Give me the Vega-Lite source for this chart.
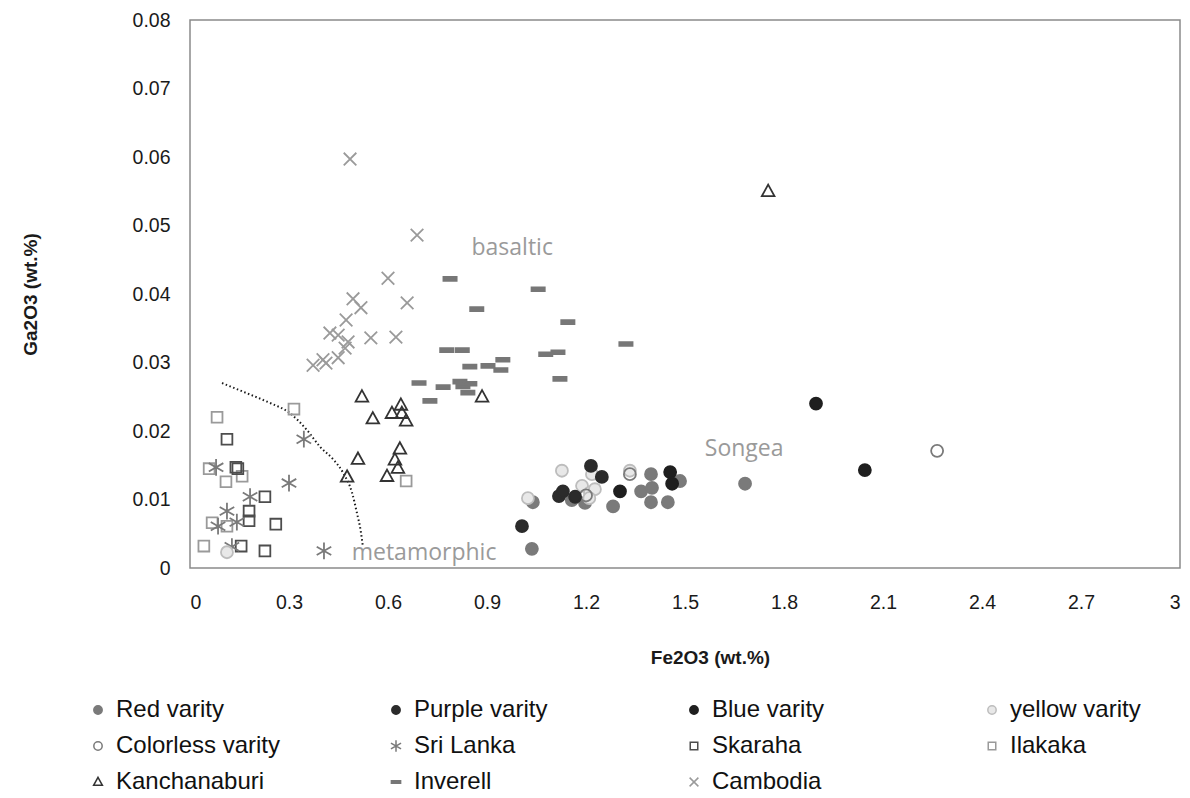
{
  "$schema": "https://vega.github.io/schema/vega-lite/v6.json",
  "autosize": "none",
  "padding": {"left": 190, "top": 20, "right": 10, "bottom": 230},
  "width": 990,
  "height": 548,
  "background": "white",
  "config": {
    "view": {"stroke": "#8a8a8a", "strokeWidth": 1.5},
    "font": "Liberation Sans",
    "axis": {"grid": false, "ticks": false, "domain": false, "labelFont": "Liberation Sans", "labelFontSize": 19.5, "labelColor": "#1a1a1a", "titleFont": "Liberation Sans", "titleFontSize": 19, "titleFontWeight": "bold", "titleColor": "#1a1a1a"},
    "legend": {"labelFont": "Liberation Sans", "labelFontSize": 24, "labelColor": "#111", "symbolSize": 70, "symbolStrokeWidth": 1.5, "labelOffset": 6, "labelLimit": 400}
  },
  "layer": [
    {
      "data": {"values": [
        {"x": 0.097, "y": 0.027}, {"x": 0.173, "y": 0.0255}, {"x": 0.242, "y": 0.0241}, {"x": 0.303, "y": 0.0226},
        {"x": 0.355, "y": 0.0201}, {"x": 0.394, "y": 0.0177}, {"x": 0.435, "y": 0.0158}, {"x": 0.464, "y": 0.0139},
        {"x": 0.491, "y": 0.011}, {"x": 0.506, "y": 0.008}, {"x": 0.517, "y": 0.0055}, {"x": 0.524, "y": 0.0031}
      ]},
      "mark": {"type": "line", "interpolate": "monotone", "stroke": "#1a1a1a", "strokeWidth": 2, "strokeDash": [1.5, 2.5]},
      "encoding": {
        "x": {"field": "x", "type": "quantitative"},
        "y": {"field": "y", "type": "quantitative"}
      }
    },
    {
      "data": {"values": [
        {"x": 0.853, "y": 0.0467, "label": "basaltic"},
        {"x": 1.56, "y": 0.0174, "label": "Songea"},
        {"x": 0.49, "y": 0.0022, "label": "metamorphic"}
      ]},
      "mark": {"type": "text", "align": "left", "baseline": "middle", "font": "Open Sans", "fontSize": 23, "color": "#9a9a9a"},
      "encoding": {
        "x": {"field": "x", "type": "quantitative"},
        "y": {"field": "y", "type": "quantitative"},
        "text": {"field": "label"}
      }
    },
    {
      "data": {"values": [
        {"s": "Cambodia", "x": 0.485, "y": 0.0597},
        {"s": "Cambodia", "x": 0.688, "y": 0.0486},
        {"s": "Cambodia", "x": 0.6, "y": 0.0423},
        {"s": "Cambodia", "x": 0.658, "y": 0.0387},
        {"s": "Cambodia", "x": 0.494, "y": 0.0393},
        {"s": "Cambodia", "x": 0.518, "y": 0.038},
        {"s": "Cambodia", "x": 0.473, "y": 0.0362},
        {"s": "Cambodia", "x": 0.424, "y": 0.0343},
        {"s": "Cambodia", "x": 0.449, "y": 0.034},
        {"s": "Cambodia", "x": 0.479, "y": 0.033},
        {"s": "Cambodia", "x": 0.47, "y": 0.0321},
        {"s": "Cambodia", "x": 0.548, "y": 0.0336},
        {"s": "Cambodia", "x": 0.624, "y": 0.0337},
        {"s": "Cambodia", "x": 0.373, "y": 0.0296},
        {"s": "Cambodia", "x": 0.403, "y": 0.0304},
        {"s": "Cambodia", "x": 0.412, "y": 0.0299},
        {"s": "Cambodia", "x": 0.449, "y": 0.0307},
        {"s": "Inverell", "x": 0.788, "y": 0.0422},
        {"s": "Inverell", "x": 1.055, "y": 0.0407},
        {"s": "Inverell", "x": 0.869, "y": 0.0378},
        {"s": "Inverell", "x": 1.145, "y": 0.0359},
        {"s": "Inverell", "x": 1.321, "y": 0.0327},
        {"s": "Inverell", "x": 0.778, "y": 0.0318},
        {"s": "Inverell", "x": 0.825, "y": 0.0318},
        {"s": "Inverell", "x": 1.078, "y": 0.0312},
        {"s": "Inverell", "x": 1.115, "y": 0.0315},
        {"s": "Inverell", "x": 0.948, "y": 0.0304},
        {"s": "Inverell", "x": 0.942, "y": 0.0289},
        {"s": "Inverell", "x": 0.848, "y": 0.0294},
        {"s": "Inverell", "x": 0.903, "y": 0.0295},
        {"s": "Inverell", "x": 1.121, "y": 0.0276},
        {"s": "Inverell", "x": 0.694, "y": 0.027},
        {"s": "Inverell", "x": 0.767, "y": 0.0264},
        {"s": "Inverell", "x": 0.818, "y": 0.0272},
        {"s": "Inverell", "x": 0.848, "y": 0.0269},
        {"s": "Inverell", "x": 0.827, "y": 0.0265},
        {"s": "Inverell", "x": 0.842, "y": 0.0256},
        {"s": "Inverell", "x": 0.727, "y": 0.0244},
        {"s": "Kanchanaburi", "x": 0.521, "y": 0.025},
        {"s": "Kanchanaburi", "x": 0.554, "y": 0.0218},
        {"s": "Kanchanaburi", "x": 0.612, "y": 0.0226},
        {"s": "Kanchanaburi", "x": 0.639, "y": 0.0238},
        {"s": "Kanchanaburi", "x": 0.642, "y": 0.0226},
        {"s": "Kanchanaburi", "x": 0.655, "y": 0.0215},
        {"s": "Kanchanaburi", "x": 0.885, "y": 0.025},
        {"s": "Kanchanaburi", "x": 0.509, "y": 0.0159},
        {"s": "Kanchanaburi", "x": 0.636, "y": 0.0174},
        {"s": "Kanchanaburi", "x": 0.621, "y": 0.0158},
        {"s": "Kanchanaburi", "x": 0.63, "y": 0.0146},
        {"s": "Kanchanaburi", "x": 0.597, "y": 0.0134},
        {"s": "Kanchanaburi", "x": 0.476, "y": 0.0133},
        {"s": "Kanchanaburi", "x": 1.752, "y": 0.055},
        {"s": "Ilakaka", "x": 0.082, "y": 0.022},
        {"s": "Ilakaka", "x": 0.315, "y": 0.0232},
        {"s": "Ilakaka", "x": 0.058, "y": 0.0145},
        {"s": "Ilakaka", "x": 0.158, "y": 0.0134},
        {"s": "Ilakaka", "x": 0.109, "y": 0.0126},
        {"s": "Ilakaka", "x": 0.067, "y": 0.0066},
        {"s": "Ilakaka", "x": 0.112, "y": 0.0061},
        {"s": "Ilakaka", "x": 0.042, "y": 0.0032},
        {"s": "Ilakaka", "x": 0.655, "y": 0.0127},
        {"s": "Skaraha", "x": 0.112, "y": 0.0188},
        {"s": "Skaraha", "x": 0.139, "y": 0.0147},
        {"s": "Skaraha", "x": 0.145, "y": 0.0145},
        {"s": "Skaraha", "x": 0.227, "y": 0.0104},
        {"s": "Skaraha", "x": 0.179, "y": 0.0083},
        {"s": "Skaraha", "x": 0.179, "y": 0.0069},
        {"s": "Skaraha", "x": 0.26, "y": 0.0064},
        {"s": "Skaraha", "x": 0.155, "y": 0.0032},
        {"s": "Skaraha", "x": 0.227, "y": 0.0025},
        {"s": "Sri Lanka", "x": 0.345, "y": 0.0188},
        {"s": "Sri Lanka", "x": 0.3, "y": 0.0124},
        {"s": "Sri Lanka", "x": 0.079, "y": 0.0147},
        {"s": "Sri Lanka", "x": 0.182, "y": 0.0104},
        {"s": "Sri Lanka", "x": 0.112, "y": 0.0083},
        {"s": "Sri Lanka", "x": 0.085, "y": 0.0061},
        {"s": "Sri Lanka", "x": 0.142, "y": 0.0067},
        {"s": "Sri Lanka", "x": 0.127, "y": 0.0031},
        {"s": "Sri Lanka", "x": 0.406, "y": 0.0025},
        {"s": "Red varity", "x": 1.036, "y": 0.0028},
        {"s": "Red varity", "x": 1.039, "y": 0.0096},
        {"s": "Red varity", "x": 1.157, "y": 0.0099},
        {"s": "Red varity", "x": 1.197, "y": 0.0095},
        {"s": "Red varity", "x": 1.282, "y": 0.009},
        {"s": "Red varity", "x": 1.367, "y": 0.0112},
        {"s": "Red varity", "x": 1.397, "y": 0.0137},
        {"s": "Red varity", "x": 1.4, "y": 0.0117},
        {"s": "Red varity", "x": 1.397, "y": 0.0096},
        {"s": "Red varity", "x": 1.448, "y": 0.0096},
        {"s": "Red varity", "x": 1.485, "y": 0.0127},
        {"s": "Red varity", "x": 1.682, "y": 0.0123},
        {"s": "yellow varity", "x": 1.024, "y": 0.0102},
        {"s": "yellow varity", "x": 1.127, "y": 0.0142},
        {"s": "yellow varity", "x": 1.188, "y": 0.012},
        {"s": "yellow varity", "x": 1.212, "y": 0.011},
        {"s": "yellow varity", "x": 1.227, "y": 0.0115},
        {"s": "yellow varity", "x": 1.218, "y": 0.0137},
        {"s": "yellow varity", "x": 1.21, "y": 0.0102},
        {"s": "yellow varity", "x": 1.333, "y": 0.0142},
        {"s": "yellow varity", "x": 0.112, "y": 0.0023},
        {"s": "Colorless varity", "x": 1.333, "y": 0.0137},
        {"s": "Colorless varity", "x": 1.2, "y": 0.0106},
        {"s": "Colorless varity", "x": 2.264, "y": 0.0171},
        {"s": "Purple varity", "x": 1.006, "y": 0.0061},
        {"s": "Purple varity", "x": 1.118, "y": 0.0105},
        {"s": "Purple varity", "x": 1.13, "y": 0.0112},
        {"s": "Purple varity", "x": 1.167, "y": 0.0104},
        {"s": "Purple varity", "x": 1.215, "y": 0.0149},
        {"s": "Purple varity", "x": 1.248, "y": 0.0133},
        {"s": "Blue varity", "x": 1.303, "y": 0.0112},
        {"s": "Blue varity", "x": 1.455, "y": 0.014},
        {"s": "Blue varity", "x": 1.461, "y": 0.0123},
        {"s": "Blue varity", "x": 1.897, "y": 0.024},
        {"s": "Blue varity", "x": 2.045, "y": 0.0143}
      ]},
      "mark": {"type": "point", "filled": false, "strokeWidth": 1.8, "opacity": 1, "size": 144},
      "encoding": {
        "x": {"field": "x", "type": "quantitative", "title": "Fe2O3 (wt.%)", "scale": {"domain": [0, 3], "nice": false, "zero": false}, "axis": {"values": [0, 0.3, 0.6, 0.9, 1.2, 1.5, 1.8, 2.1, 2.4, 2.7, 3], "format": "~g", "labelPadding": 25, "titlePadding": 37, "titleX": 520}},
        "y": {"field": "y", "type": "quantitative", "title": "Ga2O3 (wt.%)", "scale": {"domain": [0, 0.08], "nice": false}, "axis": {"values": [0, 0.01, 0.02, 0.03, 0.04, 0.05, 0.06, 0.07, 0.08], "format": ".2~f", "labelPadding": 20, "titlePadding": 92}},
        "shape": {"field": "s", "type": "nominal",
          "legend": {"title": null, "orient": "none", "legendX": -104, "legendY": 678, "columns": 4, "gridAlign": "all", "columnPadding": 103, "rowPadding": 12},
          "scale": {"domain": ["Red varity", "Colorless varity", "Kanchanaburi", "Purple varity", "Sri Lanka", "Inverell", "Blue varity", "Skaraha", "Cambodia", "yellow varity", "Ilakaka"],
            "range": ["circle", "circle", "M0,-1.1L1.05,0.8L-1.05,0.8Z", "circle", "M0,-1.4L0,1.4M-1.21,-0.7L1.21,0.7M-1.21,0.7L1.21,-0.7", "M-1.1,-0.32L1.1,-0.32L1.1,0.32L-1.1,0.32Z", "circle", "M-0.9,-0.9L0.9,-0.9L0.9,0.9L-0.9,0.9Z", "M-1.05,-1.05L1.05,1.05M-1.05,1.05L1.05,-1.05", "circle", "M-0.9,-0.9L0.9,-0.9L0.9,0.9L-0.9,0.9Z"]}},
        "fill": {"field": "s", "type": "nominal",
          "legend": {"title": null, "orient": "none", "legendX": -104, "legendY": 678, "columns": 4, "gridAlign": "all", "columnPadding": 103, "rowPadding": 12},
          "scale": {"domain": ["Red varity", "Colorless varity", "Kanchanaburi", "Purple varity", "Sri Lanka", "Inverell", "Blue varity", "Skaraha", "Cambodia", "yellow varity", "Ilakaka"],
            "range": ["#7a7a7a", "transparent", "transparent", "#2b2b2b", "transparent", "#777777", "#1f1f1f", "transparent", "transparent", "#e8e8e8", "transparent"]}},
        "stroke": {"field": "s", "type": "nominal",
          "legend": {"title": null, "orient": "none", "legendX": -104, "legendY": 678, "columns": 4, "gridAlign": "all", "columnPadding": 103, "rowPadding": 12},
          "scale": {"domain": ["Red varity", "Colorless varity", "Kanchanaburi", "Purple varity", "Sri Lanka", "Inverell", "Blue varity", "Skaraha", "Cambodia", "yellow varity", "Ilakaka"],
            "range": ["#7a7a7a", "#7a7a7a", "#333333", "#2b2b2b", "#7a7a7a", "#777777", "#1f1f1f", "#4d4d4d", "#9a9a9a", "#bdbdbd", "#9a9a9a"]}}
      }
    }
  ]
}
